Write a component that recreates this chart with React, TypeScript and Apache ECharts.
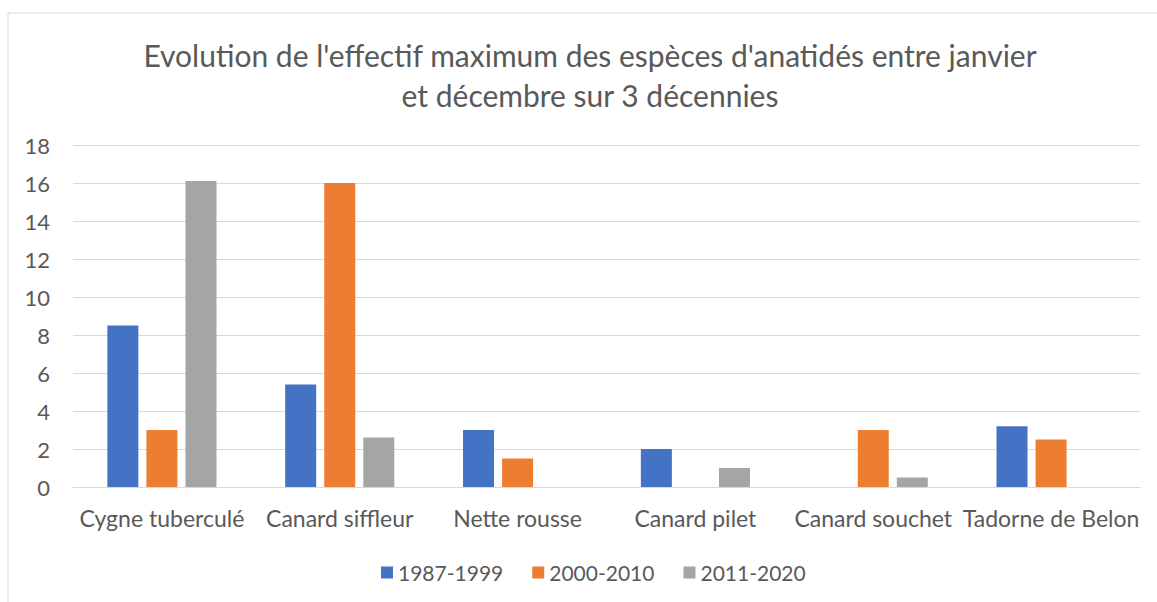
import React, { useEffect, useRef } from "react";
import * as echarts from "echarts";

const categories = [
  "Cygne tuberculé",
  "Canard siffleur",
  "Nette rousse",
  "Canard pilet",
  "Canard souchet",
  "Tadorne de Belon",
];
const seriesNames = ["1987-1999", "2000-2010", "2011-2020"];
const values1987 = [8.5, 5.4, 3, 2, 0, 3.2];
const values2000 = [3, 16, 1.5, 0, 3, 2.5];
const values2011 = [16.1, 2.6, 0, 1, 0.5, 0];
const colors = ["#4472C4", "#ED7D31", "#A5A5A5"];
const titleText =
  "Evolution de l'effectif maximum des espèces d'anatidés entre janvier\net décembre sur 3 décennies";

export default function App() {
  const ref = useRef<HTMLDivElement>(null);
  useEffect(() => {
    if (!ref.current) return;
    const chart = echarts.init(ref.current, null, { renderer: "svg" });
    const font = "Lato, 'Open Sans', sans-serif";
    const data = [values1987, values2000, values2011];
    chart.setOption({
      animation: false,
      textStyle: { fontFamily: font },
      graphic: [
        {
          type: "rect",
          shape: { x: 8, y: 13, width: 1170, height: 620 },
          style: { fill: "none", stroke: "#d9d9d9", lineWidth: 1 },
          silent: true,
        },
        {
          type: "text",
          x: 590,
          y: 35,
          silent: true,
          style: {
            text: titleText,
            align: "center",
            verticalAlign: "top",
            fontFamily: font,
            fontSize: 30,
            lineHeight: 40,
            fill: "#595959",
          },
        },
      ],
      legend: {
        top: 557,
        left: 376,
        itemWidth: 12,
        itemHeight: 12,
        itemGap: 29,
        icon: "rect",
        textStyle: { fontFamily: font, fontSize: 21, color: "#595959" },
        data: seriesNames,
      },
      grid: { left: 73, right: 17, top: 145, bottom: 115, containLabel: false },
      xAxis: {
        type: "category",
        data: categories,
        axisLine: { lineStyle: { color: "#d9d9d9", width: 1 } },
        axisTick: { show: false },
        axisLabel: { fontFamily: font, fontSize: 23, color: "#595959", margin: 19, interval: 0 },
      },
      yAxis: {
        type: "value",
        min: 0,
        max: 18,
        interval: 2,
        axisLine: { show: false },
        axisTick: { show: false },
        splitLine: { lineStyle: { color: "#d9d9d9", width: 1 } },
        axisLabel: { fontFamily: font, fontSize: 22, color: "#595959", margin: 23 },
      },
      series: seriesNames.map((name, i) => ({
        name,
        type: "bar",
        data: data[i],
        barWidth: 31,
        barGap: "26%",
        itemStyle: { color: colors[i] },
      })),
    });
    return () => chart.dispose();
  }, []);
  return (
    <div
      ref={ref}
      style={{ position: "fixed", left: 0, top: 0, width: 1157, height: 602, background: "#fff" }}
    />
  );
}
